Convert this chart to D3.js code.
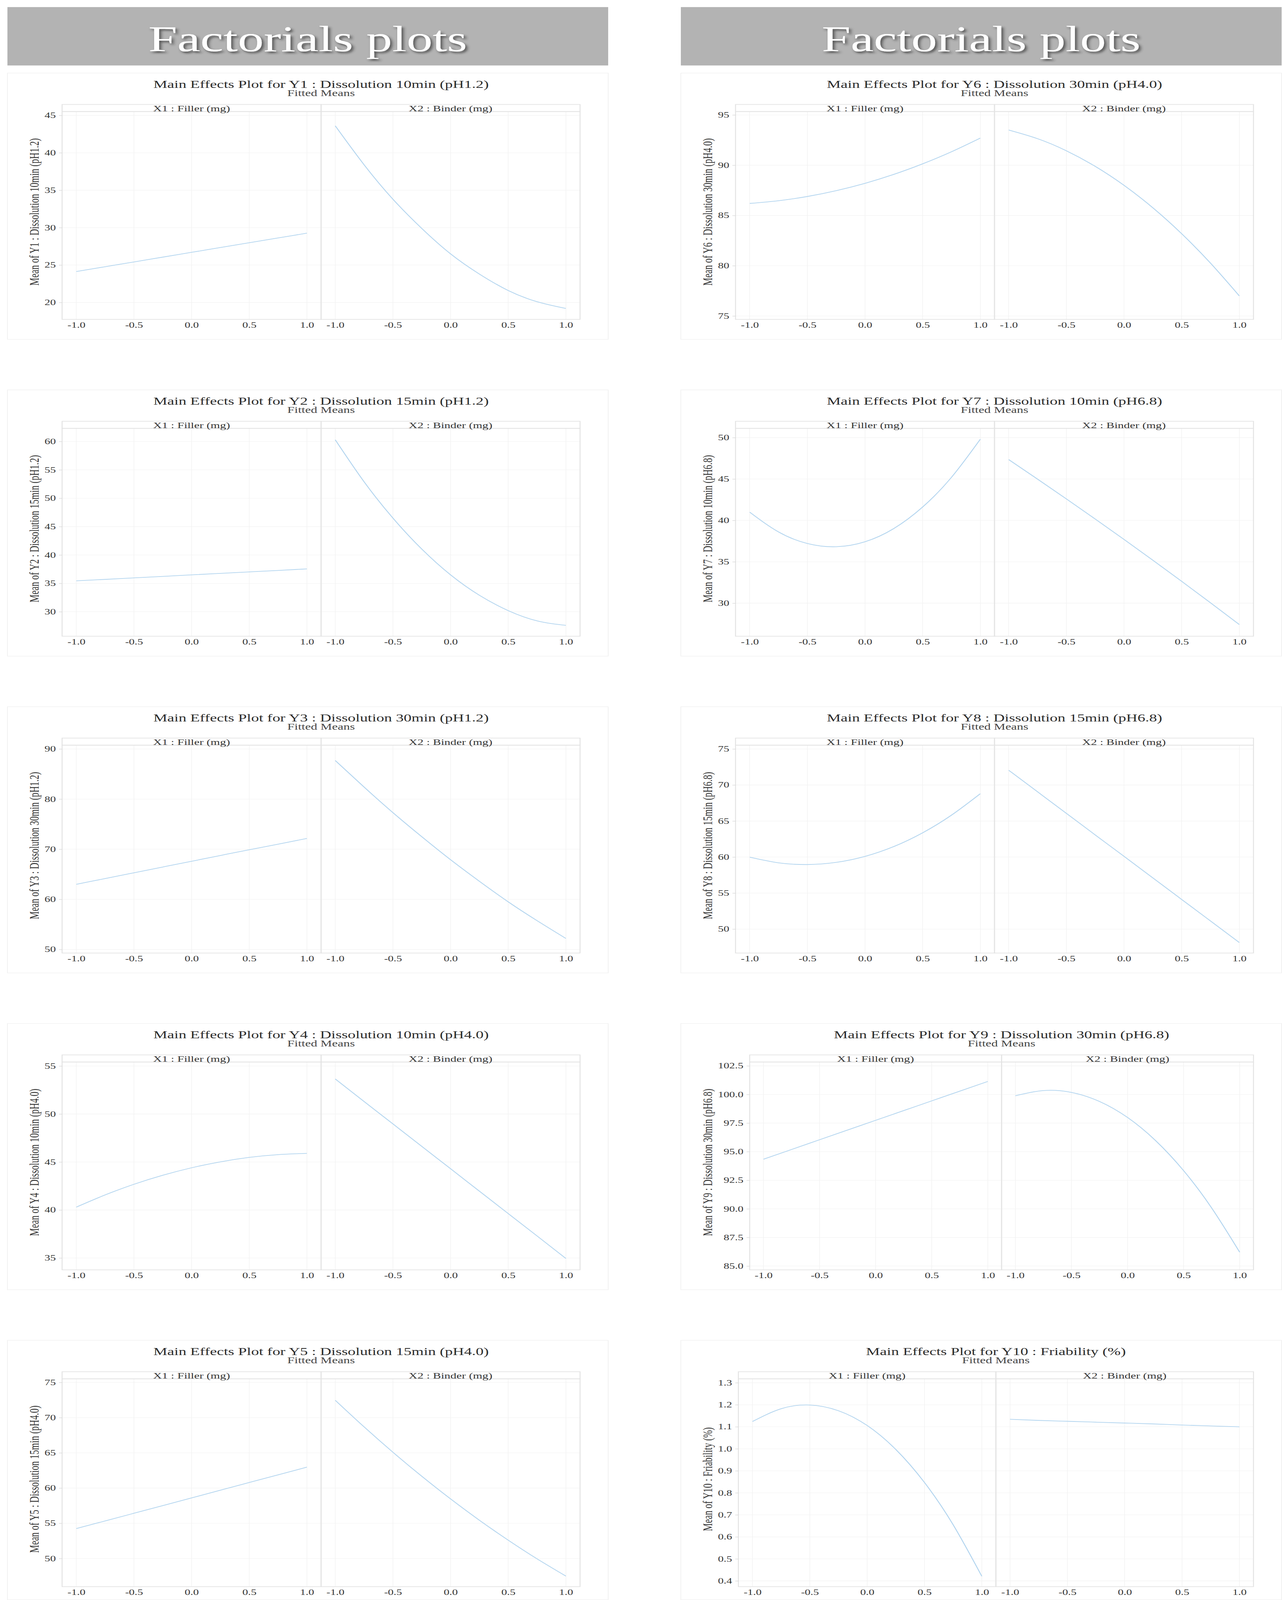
<!DOCTYPE html>
<html>
<head>
<meta charset="utf-8">
<script src="https://cdn.jsdelivr.net/npm/d3@7"></script>
<style>
  html, body { margin: 0; padding: 0; background: #fff; overflow: hidden; }
  svg { display: block; }
  text { font-family: "Liberation Serif", "Times New Roman", serif; }
</style>
</head>
<body>
<div id="chart"></div>
<script>
// coded factor levels where the fitted means were read
var xLevels = [-1, -0.75, -0.5, -0.25, 0, 0.25, 0.5, 0.75, 1];
var xTicks = [-1, -0.5, 0, 0.5, 1];
var factorNames = ["X1 : Filler (mg)", "X2 : Binder (mg)"];
var responseNames = [
  "Y1 : Dissolution 10min (pH1.2)",
  "Y2 : Dissolution 15min (pH1.2)",
  "Y3 : Dissolution 30min (pH1.2)",
  "Y4 : Dissolution 10min (pH4.0)",
  "Y5 : Dissolution 15min (pH4.0)",
  "Y6 : Dissolution 30min (pH4.0)",
  "Y7 : Dissolution 10min (pH6.8)",
  "Y8 : Dissolution 15min (pH6.8)",
  "Y9 : Dissolution 30min (pH6.8)",
  "Y10 : Friability (%)"
];

var y1Filler = [24.14, 24.78, 25.42, 26.06, 26.7, 27.34, 27.98, 28.62, 29.26];
var y1Binder = [43.6, 38.4, 33.8, 29.9, 26.5, 23.8, 21.6, 20.1, 19.2];
var y2Filler = [35.45, 35.7, 35.97, 36.23, 36.5, 36.76, 37.02, 37.28, 37.55];
var y2Binder = [60.3, 52.9, 46.5, 41.05, 36.5, 32.9, 30.2, 28.4, 27.6];
var y3Filler = [63.0, 64.15, 65.3, 66.45, 67.6, 68.75, 69.9, 71.0, 72.15];
var y3Binder = [87.7, 82.4, 77.3, 72.5, 67.9, 63.6, 59.5, 55.75, 52.2];
var y4Filler = [40.3, 41.57, 42.68, 43.62, 44.4, 45.02, 45.48, 45.77, 45.9];
var y4Binder = [53.65, 51.3, 48.97, 46.63, 44.3, 41.96, 39.63, 37.3, 34.95];
var y5Filler = [54.25, 55.33, 56.42, 57.51, 58.6, 59.7, 60.79, 61.88, 62.97];
var y5Binder = [72.47, 68.69, 65.09, 61.68, 58.46, 55.43, 52.6, 49.95, 47.5];
var y6Filler = [86.2, 86.47, 86.89, 87.47, 88.2, 89.09, 90.14, 91.34, 92.7];
var y6Binder = [93.5, 92.64, 91.44, 89.89, 88.0, 85.77, 83.19, 80.26, 77.0];
var y7Filler = [41.0, 38.61, 37.21, 36.82, 37.42, 39.02, 41.62, 45.21, 49.81];
var y7Binder = [47.35, 44.99, 42.6, 40.17, 37.7, 35.19, 32.64, 30.05, 27.42];
var y8Filler = [59.98, 59.2, 58.96, 59.26, 60.09, 61.46, 63.37, 65.82, 68.8];
var y8Binder = [72.05, 69.06, 66.07, 63.08, 60.1, 57.11, 54.12, 51.13, 48.14];
var y9Filler = [94.34, 95.19, 96.04, 96.89, 97.74, 98.59, 99.44, 100.29, 101.14];
var y9Binder = [99.89, 100.34, 100.18, 99.39, 97.99, 95.97, 93.34, 90.08, 86.21];
var y10Filler = [1.124, 1.182, 1.199, 1.173, 1.106, 0.997, 0.847, 0.655, 0.421];
var y10Binder = [1.134, 1.129, 1.125, 1.121, 1.117, 1.113, 1.108, 1.104, 1.100];

var fillerMeans = [y1Filler, y2Filler, y3Filler, y4Filler, y5Filler,
                   y6Filler, y7Filler, y8Filler, y9Filler, y10Filler];
var binderMeans = [y1Binder, y2Binder, y3Binder, y4Binder, y5Binder,
                   y6Binder, y7Binder, y8Binder, y9Binder, y10Binder];

var yTicks = [
  [20, 25, 30, 35, 40, 45],
  [30, 35, 40, 45, 50, 55, 60],
  [50, 60, 70, 80, 90],
  [35, 40, 45, 50, 55],
  [50, 55, 60, 65, 70, 75],
  [75, 80, 85, 90, 95],
  [30, 35, 40, 45, 50],
  [50, 55, 60, 65, 70, 75],
  [85, 87.5, 90, 92.5, 95, 97.5, 100, 102.5],
  [0.4, 0.5, 0.6, 0.7, 0.8, 0.9, 1.0, 1.1, 1.2, 1.3]
];
var yRanges = [
  [17.74, 45.51], [25.69, 62.31], [49.29, 90.76], [33.77, 55.42], [46.0, 75.52],
  [74.66, 95.34], [26.01, 51.12], [46.68, 75.53], [84.67, 102.84], [0.374, 1.318]
];
var yFormats = ["d", "d", "d", "d", "d", "d", "d", "d", ".1f", ".1f"];
var headerText = "Factorials plots";

var W = 3282, H = 5866;
var colX = [19, 1743];
var panelW = 1538, panelH = 976;
var xPad = 1.123;
var lineColor = "#b3d5ef";

// the drawing keeps to the window so nothing spills past its edges
var svg = d3.select("#chart").append("svg")
  .attr("viewBox", "0 0 " + W + " " + H)
  .attr("preserveAspectRatio", "none")
  .style("width", "100vw")
  .style("height", "100vh");

var defs = svg.append("defs");
defs.append("filter")
  .attr("id", "shadow")
  .attr("x", "-10%").attr("y", "-20%")
  .attr("width", "120%").attr("height", "150%")
  .append("feDropShadow")
  .attr("dx", 5).attr("dy", 6)
  .attr("stdDeviation", 4)
  .attr("flood-color", "#333")
  .attr("flood-opacity", 0.75);

// header bands
colX.forEach(function (cx) {
  svg.append("rect")
    .attr("x", cx).attr("y", 26)
    .attr("width", panelW).attr("height", 214)
    .attr("fill", "#b3b3b3");
  svg.append("text")
    .attr("x", cx + panelW / 2).attr("y", 187)
    .attr("text-anchor", "middle")
    .style("font-size", "133px")
    .attr("fill", "#fff")
    .attr("filter", "url(#shadow)")
    .text(headerText);
});

function drawPanel(i) {
  var col = i < 5 ? 0 : 1;
  var row = i % 5;
  var left = colX[col];
  var top = 268 + row * 1161.5;

  var g = svg.append("g")
    .attr("transform", "translate(" + left + "," + top + ")");

  g.append("rect")
    .attr("width", panelW).attr("height", Math.min(panelH, H - top - 1))
    .attr("fill", "none")
    .attr("stroke", "#f1f1f1")
    .attr("stroke-width", 2);

  var fmt = d3.format(yFormats[i]);

  // plot left edge follows the widest tick label
  var probe = g.append("text").style("font-size", "29px");
  var maxW = 0;
  yTicks[i].forEach(function (t) {
    probe.text(fmt(t));
    maxW = Math.max(maxW, probe.node().getComputedTextLength());
  });
  probe.remove();

  var plotL = 111 + maxW;
  var plotR = 1466;
  var stripT = 115, stripB = 141, plotB = 903;
  var facetW = (plotR - plotL) / 2;

  var y = d3.scaleLinear().domain(yRanges[i]).range([plotB, stripB]);

  var means = [fillerMeans[i], binderMeans[i]];

  var line = d3.line()
    .x(function (d) { return d.px; })
    .y(function (d) { return y(d.v); })
    .curve(d3.curveNatural);

  for (var f = 0; f < 2; f++) {
    var fx0 = plotL + f * facetW;
    var x = d3.scaleLinear().domain([-xPad, xPad]).range([fx0, fx0 + facetW]);
    var fg = g.append("g");

    // grid
    fg.selectAll(".vgrid")
      .data(xTicks)
      .enter().append("line")
      .attr("x1", function (d) { return x(d); })
      .attr("x2", function (d) { return x(d); })
      .attr("y1", stripB).attr("y2", plotB)
      .attr("stroke", "#f2f2f2").attr("stroke-width", 1.5);
    fg.selectAll(".hgrid")
      .data(yTicks[i])
      .enter().append("line")
      .attr("x1", fx0).attr("x2", fx0 + facetW)
      .attr("y1", function (d) { return y(d); })
      .attr("y2", function (d) { return y(d); })
      .attr("stroke", "#f2f2f2").attr("stroke-width", 1.5);

    // strip and panel frame
    fg.append("rect")
      .attr("x", fx0).attr("y", stripT)
      .attr("width", facetW).attr("height", stripB - stripT)
      .attr("fill", "none")
      .attr("stroke", "#e3e3e3").attr("stroke-width", 2.5);
    fg.append("rect")
      .attr("x", fx0).attr("y", stripB)
      .attr("width", facetW).attr("height", plotB - stripB)
      .attr("fill", "none")
      .attr("stroke", "#e3e3e3").attr("stroke-width", 2.5);

    fg.append("text")
      .attr("x", fx0 + facetW / 2).attr("y", stripB - 1)
      .attr("text-anchor", "middle")
      .style("font-size", "31px")
      .attr("fill", "#333")
      .text(factorNames[f]);

    // x axis labels
    var xAxis = fg.append("g")
      .attr("transform", "translate(0," + plotB + ")")
      .call(d3.axisBottom(x)
        .tickValues(xTicks)
        .tickSize(0)
        .tickPadding(10)
        .tickFormat(function (d) { return d.toFixed(1); }));
    xAxis.select(".domain").remove();
    xAxis.selectAll("text")
      .style("font-size", "29px")
      .style("font-family", "'Liberation Serif', 'Times New Roman', serif")
      .attr("fill", "#333");

    var pts = xLevels.map(function (xv, k) {
      return { px: x(xv), v: means[f][k] };
    });
    fg.append("path")
      .datum(pts)
      .attr("d", line)
      .attr("fill", "none")
      .attr("stroke", lineColor)
      .attr("stroke-width", 2.6);
  }

  // y axis
  var yAxis = g.append("g")
    .attr("transform", "translate(" + plotL + ",0)")
    .call(d3.axisLeft(y)
      .tickValues(yTicks[i])
      .tickSize(8)
      .tickPadding(8)
      .tickFormat(fmt));
  yAxis.select(".domain").remove();
  yAxis.selectAll("line").attr("stroke", "#d0d0d0").attr("stroke-width", 1.5);
  yAxis.selectAll("text")
    .style("font-size", "29px")
    .style("font-family", "'Liberation Serif', 'Times New Roman', serif")
    .attr("fill", "#333");

  g.append("text")
    .attr("transform", "translate(68," + ((stripT + plotB) / 2) + ") rotate(-90)")
    .attr("text-anchor", "middle")
    .attr("dy", "0.35em")
    .style("font-size", "33px")
    .attr("fill", "#333")
    .text("Mean of " + responseNames[i]);

  var cx = (plotL + plotR) / 2;
  g.append("text")
    .attr("x", cx).attr("y", 54)
    .attr("text-anchor", "middle")
    .style("font-size", "40px")
    .attr("fill", "#2b2b2b")
    .text("Main Effects Plot for " + responseNames[i]);
  g.append("text")
    .attr("x", cx).attr("y", 84)
    .attr("text-anchor", "middle")
    .style("font-size", "33px")
    .attr("fill", "#444")
    .text("Fitted Means");
}

for (var i = 0; i < responseNames.length; i++) {
  drawPanel(i);
}
</script>
</body>
</html>
